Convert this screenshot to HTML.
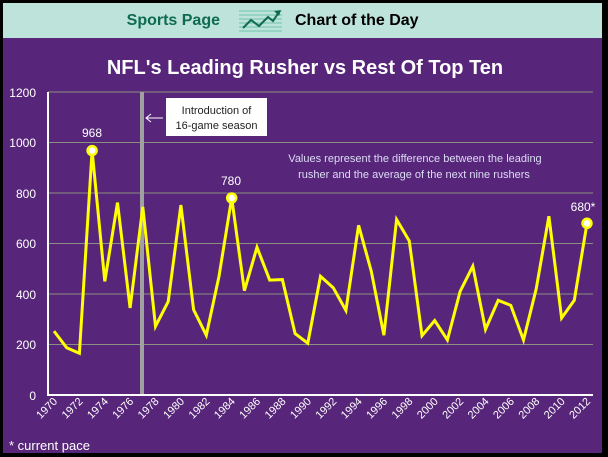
<!DOCTYPE html>
<html><head><meta charset="utf-8"><style>
body{margin:0;background:#000;width:608px;height:457px;overflow:hidden}
svg{display:block;font-family:"Liberation Sans",sans-serif}
</style></head><body>
<svg width="608" height="457" viewBox="0 0 608 457">
<rect x="0" y="0" width="608" height="457" fill="#000"/>
<rect x="3" y="3" width="599" height="35" fill="#bde3da"/>
<rect x="3" y="38" width="599" height="415" fill="#57267a"/>
<text x="220" y="25" font-size="16" font-weight="bold" fill="#0f6b4f" text-anchor="end">Sports Page</text>
<g stroke="#6fc3a7" stroke-width="1">
<line x1="239" y1="11" x2="282" y2="11"/><line x1="239" y1="15" x2="282" y2="15"/><line x1="239" y1="19" x2="282" y2="19"/><line x1="239" y1="23" x2="282" y2="23"/><line x1="239" y1="27" x2="282" y2="27"/><line x1="239" y1="31" x2="282" y2="31"/></g>
<polyline points="243,28 251,20 259,26 268,17 273,21 279,12" fill="none" stroke="#0f6b4f" stroke-width="2"/>
<polygon points="281,10 274,11 279,16" fill="#0f6b4f"/>
<text x="295" y="25" font-size="16" font-weight="bold" fill="#000">Chart of the Day</text>
<text x="305" y="74" font-size="20" font-weight="bold" fill="#fff" text-anchor="middle">NFL's Leading Rusher vs Rest Of Top Ten</text>
<g stroke="#8a9080" stroke-width="1">
<line x1="48" y1="92" x2="593" y2="92"/><line x1="48" y1="142.5" x2="593" y2="142.5"/><line x1="48" y1="193" x2="593" y2="193"/><line x1="48" y1="243.5" x2="593" y2="243.5"/><line x1="48" y1="294" x2="593" y2="294"/><line x1="48" y1="344.5" x2="593" y2="344.5"/></g>
<line x1="48" y1="92" x2="48" y2="396" stroke="#fff" stroke-width="2"/>
<line x1="47" y1="395" x2="593" y2="395" stroke="#fff" stroke-width="2"/>
<line x1="142" y1="92" x2="142" y2="394" stroke="#a0a0a0" stroke-width="4"/>
<g font-size="12" fill="#fff" text-anchor="end">
<text x="36" y="97">1200</text><text x="36" y="147">1000</text><text x="36" y="198">800</text><text x="36" y="248">600</text><text x="36" y="299">400</text><text x="36" y="349">200</text><text x="36" y="400">0</text></g>
<rect x="166" y="98" width="101" height="38" fill="#fff"/>
<text x="216.5" y="114" font-size="11" fill="#222" text-anchor="middle">Introduction of</text>
<text x="216.5" y="129" font-size="11" fill="#222" text-anchor="middle">16-game season</text>
<line x1="146" y1="118" x2="163" y2="118" stroke="#fff" stroke-width="1"/>
<polyline points="151,114 146,118 151,122" fill="none" stroke="#fff" stroke-width="1"/>
<text x="415" y="162" font-size="11" fill="#dcdcf5" text-anchor="middle">Values represent the difference between  the leading</text>
<text x="414" y="178" font-size="11" fill="#dcdcf5" text-anchor="middle">rusher and the average of the next nine rushers</text>
<polyline fill="none" stroke="#ffff00" stroke-width="3" stroke-linejoin="miter" points="54,331.1 66.7,347.8 79.4,353.3 92.1,150.6 104.8,281.4 117.5,202.6 130.1,307.9 142.8,206.9 155.5,326.3 168.2,301.6 180.9,205.1 193.6,309.7 206.3,335.2 219,276.3 231.7,198 244.4,290.7 257,247.3 269.7,280.1 282.4,279.6 295.1,333.6 307.8,343.2 320.5,276.3 333.2,287.7 345.9,310.4 358.6,225.3 371.3,271.3 383.9,335.2 396.6,219.5 409.3,241 422,335.7 434.7,320.5 447.4,340 460.1,291.5 472.8,266.2 485.5,329.4 498.2,300.3 510.8,305.4 523.5,340 536.2,288.9 548.9,216.2 561.6,318 574.3,300.3 587,223.3"/>
<g fill="#fff" stroke="#ffff00" stroke-width="2.5">
<circle cx="92.1" cy="150.6" r="4.5"/><circle cx="231.7" cy="198" r="4.5"/><circle cx="587" cy="223.3" r="4.5"/></g>
<g font-size="12" fill="#fff" text-anchor="middle">
<text x="92" y="137">968</text><text x="231" y="185">780</text><text x="583" y="211">680*</text></g>
<g font-size="11" fill="#fff" text-anchor="end">
<text transform="translate(58,402) rotate(-45)">1970</text>
<text transform="translate(83.4,402) rotate(-45)">1972</text>
<text transform="translate(108.8,402) rotate(-45)">1974</text>
<text transform="translate(134.1,402) rotate(-45)">1976</text>
<text transform="translate(159.5,402) rotate(-45)">1978</text>
<text transform="translate(184.9,402) rotate(-45)">1980</text>
<text transform="translate(210.3,402) rotate(-45)">1982</text>
<text transform="translate(235.7,402) rotate(-45)">1984</text>
<text transform="translate(261,402) rotate(-45)">1986</text>
<text transform="translate(286.4,402) rotate(-45)">1988</text>
<text transform="translate(311.8,402) rotate(-45)">1990</text>
<text transform="translate(337.2,402) rotate(-45)">1992</text>
<text transform="translate(362.6,402) rotate(-45)">1994</text>
<text transform="translate(387.9,402) rotate(-45)">1996</text>
<text transform="translate(413.3,402) rotate(-45)">1998</text>
<text transform="translate(438.7,402) rotate(-45)">2000</text>
<text transform="translate(464.1,402) rotate(-45)">2002</text>
<text transform="translate(489.5,402) rotate(-45)">2004</text>
<text transform="translate(514.8,402) rotate(-45)">2006</text>
<text transform="translate(540.2,402) rotate(-45)">2008</text>
<text transform="translate(565.6,402) rotate(-45)">2010</text>
<text transform="translate(591,402) rotate(-45)">2012</text></g>
<text x="9" y="450" font-size="13" fill="#fff">* current pace</text>
</svg>
</body></html>
